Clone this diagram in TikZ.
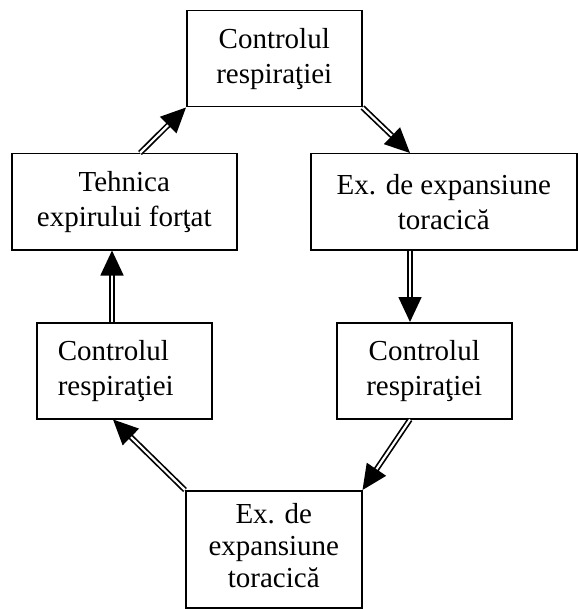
\documentclass[tikz,border=0pt]{standalone}
\usepackage{fontspec}
\setmainfont{Liberation Serif}
\usetikzlibrary{arrows.meta,calc}
\begin{document}
\begin{tikzpicture}[x=1pt,y=-1pt,
  box/.style={draw,line width=1.5pt,inner sep=0pt,anchor=north west,align=center,
    minimum height=96pt,font=\fontsize{29}{35}\selectfont},
  dbl/.style={line width=1.7pt,double distance=2.2pt,double=white,
    -{Triangle[length=25pt,width=23pt]}}]
\useasboundingbox (0,0) rectangle (577,609);
\node[box,minimum width=175pt] (b1) at (186,10) {Controlul\\respiraţiei};
\node[box,minimum width=225pt] (b2) at (11,153) {Tehnica\\expirului forţat};
\node[box,minimum width=266pt] (b3) at (310,153) {Ex. de expansiune\\toracică};
\node[box,minimum width=175pt] (b4) at (336,322) {Controlul\\respiraţiei};
\node[box,align=left,text width=133pt,inner xsep=21pt] (b5) at (36,322) {Controlul\\respiraţiei};
\node[box,minimum width=176pt,minimum height=117pt,font=\fontsize{29}{32}\selectfont,text depth=8pt] (b6) at (185,490) {Ex. de\\expansiune\\toracică};
\draw[dbl] ($(b2.north west)+(129,0)$) -- (b1.south west);
\draw[dbl] (b1.south east) -- ($(b3.north west)+(100,0)$);
\draw[dbl] ($(b3.south west)+(100,0)$) -- ($(b4.north west)+(74,0)$);
\draw[dbl] ($(b4.south west)+(74,0)$) -- (b6.north east);
\draw[dbl] (b6.north west) -- ($(b5.south west)+(77,0)$);
\draw[dbl] ($(b5.north west)+(76,0)$) -- ($(b2.south west)+(101,0)$);
\end{tikzpicture}
\end{document}
